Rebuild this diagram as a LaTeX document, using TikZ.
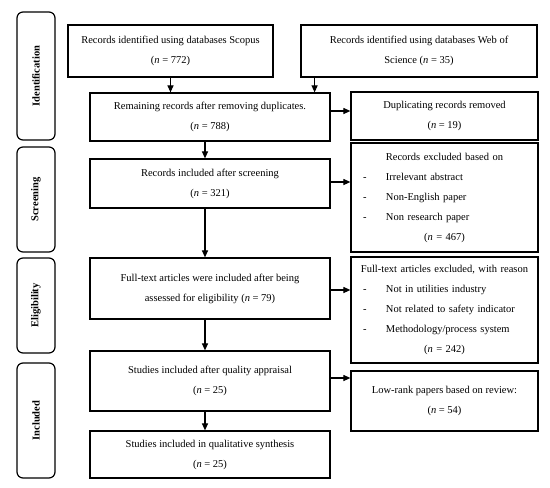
\documentclass[tikz,border=0pt]{standalone}
\usepackage{fontspec}
\setmainfont{Liberation Serif}
\usetikzlibrary{arrows.meta,calc}
\newcommand\lstitem[1]{\makebox[187pt][l]{\hspace{12pt}-\hspace{19.5pt}#1}}
\begin{document}
\begin{tikzpicture}[x=1pt,y=-1pt,
  box/.style={draw, line width=1.2pt, inner sep=0pt, align=center, font=\fontsize{10.5}{20}\selectfont},
  lstbox/.style={box, text width=187pt},
  phase/.style={draw, line width=1.2pt, rounded corners=6pt, inner sep=0pt, rotate=90, minimum height=38pt, font=\fontsize{10.5}{12}\selectfont\bfseries},
  arr/.style={-{Triangle[length=7pt,width=6pt]}, line width=1.1pt}]
\fill[white] (0,0) rectangle (550,488);
\useasboundingbox (0,0) rectangle (550,488);

% phases
\node[phase, minimum width=128pt] (p1) at (36,76) {Identification};
\node[phase, minimum width=105pt] (p2) at (36,199.5) {Screening};
\node[phase, minimum width=95pt] (p3) at (36,305.5) {Eligibility};
\node[phase, minimum width=115pt] (p4) at (36,420.5) {Included};

% main column
\node[box, minimum width=205pt, minimum height=52pt] (scopus) at (170.5,51) {Records identified using databases Scopus\\(\textit{n} = 772)};
\node[box, minimum width=236pt, minimum height=52pt] (wos) at (419,51) {Records identified using databases Web of\\Science (\textit{n} = 35)};
\node[box, minimum width=240pt, minimum height=48pt] (rem) at (210,117) {Remaining records after removing duplicates.\\(\textit{n} = 788)};
\node[box, minimum width=187pt, minimum height=48pt] (dup) at (444.5,116) {Duplicating records removed\\(\textit{n} = 19)};
\node[box, minimum width=240pt, minimum height=49pt] (scr) at (210,183.5) {Records included after screening\\(\textit{n} = 321)};
\node[lstbox, minimum height=109pt] (exc1) at (444.5,197.5) {Records excluded based on\\\lstitem{Irrelevant abstract}\\\lstitem{Non-English paper}\\\lstitem{Non research paper}\\(\textit{n} = 467)};
\node[box, minimum width=240pt, minimum height=61pt] (ft) at (210,288.5) {Full-text articles were included after being\\assessed for eligibility (\textit{n} = 79)};
\node[lstbox, minimum height=106pt] (exc2) at (444.5,310) {Full-text articles excluded, with reason\\\lstitem{Not in utilities industry}\\\lstitem{Not related to safety indicator}\\\lstitem{Methodology/process system}\\(\textit{n} = 242)};
\node[box, minimum width=240pt, minimum height=60pt] (stud) at (210,381) {Studies included after quality appraisal\\(\textit{n} = 25)};
\node[box, minimum width=187pt, minimum height=60pt] (low) at (444.5,401) {Low-rank papers based on review:\\(\textit{n} = 54)};
\node[box, minimum width=240pt, minimum height=47pt] (qual) at (210,454.5) {Studies included in qualitative synthesis\\(\textit{n} = 25)};

% arrows
\coordinate (wx) at ([xshift=-16pt]rem.north east);
\coordinate (cx) at (205,0);
\draw[arr] (scopus.south) -- (scopus.south |- rem.north);
\draw[arr] (wx |- wos.south) -- (wx);
\draw[arr] ([yshift=6pt]rem.east) -- ([yshift=6pt]rem.east -| dup.west);
\draw[arr] (cx |- rem.south) -- (cx |- scr.north);
\draw[arr] ([yshift=1.5pt]scr.east) -- ([yshift=1.5pt]scr.east -| exc1.west);
\draw[arr] (cx |- scr.south) -- (cx |- ft.north);
\draw[arr] ([yshift=-1.5pt]ft.east) -- ([yshift=-1.5pt]ft.east -| exc2.west);
\draw[arr] (cx |- ft.south) -- (cx |- stud.north);
\draw[arr] ([yshift=3pt]stud.east) -- ([yshift=3pt]stud.east -| low.west);
\draw[arr] (cx |- stud.south) -- (cx |- qual.north);
\end{tikzpicture}
\end{document}
